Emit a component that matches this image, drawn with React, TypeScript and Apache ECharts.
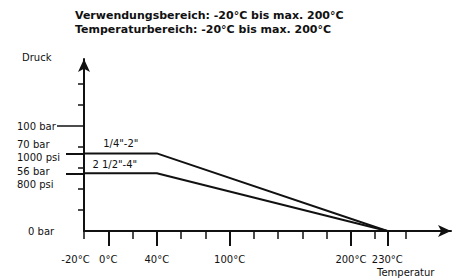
import React, { useEffect, useRef } from 'react';
import * as echarts from 'echarts';

// Temperature (°C) along each pressure curve
const temps = [-20, 40, 230];
// Pressure (bar) of each size range
const smallSizes = [74, 74, 0];
const largeSizes = [55, 55, 0];
const seriesNames = ['1/4"-2"', '2 1/2"-4"'];

const xLabelValues = [-20, 0, 40, 100, 200, 230];
const xMajorTicks = [0, 40, 100, 200, 230];
const xMinorTicks = [-20, 20, 60, 80, 120, 140, 160, 180, 220, 245];

const yLabelValues = [0, 50.5, 76.5, 100];
const yLabelTexts = ['0 bar', '56 bar\n800 psi', '70 bar\n1000 psi', '100 bar'];
const yMajorTicks = [100];
const yMinorTicks = [20, 40, 60, 80, 120, 140];

const titleLines = [
  'Verwendungsbereich: -20°C bis max. 200°C',
  'Temperaturbereich: -20°C bis max. 200°C',
];
const yName = 'Druck';
const xName = 'Temperatur';

const INK = '#111';
const FONT = 'DejaVu Sans';

export default function App() {
  const ref = useRef<HTMLDivElement>(null);
  useEffect(() => {
    if (!ref.current) return;
    const chart = echarts.init(ref.current, undefined, { renderer: 'svg' });
    const X_MIN = -20;
    const X_MAX = 282.5;
    const Y_MIN = 0;
    const Y_MAX = 164;
    const labelStyle = { color: INK, fontFamily: FONT, fontSize: 10 };
    const pointLabel = (text: string, offset: number[]) => ({
      show: true,
      position: 'top',
      distance: 5,
      offset,
      formatter: text,
      ...labelStyle,
    });
    const plainY = (ticks: number[], length: number, width: number) => ({
      type: 'value',
      position: 'left',
      min: Y_MIN,
      max: Y_MAX,
      splitLine: { show: false },
      axisLine: { show: false, onZero: false },
      axisTick: { show: true, customValues: ticks, length, lineStyle: { color: INK, width } },
      axisLabel: { show: false },
    });
    chart.setOption({
      animation: false,
      backgroundColor: '#fff',
      title: [
        {
          text: titleLines.join('\n'),
          left: 75,
          top: 8,
          padding: 0,
          textStyle: { ...labelStyle, fontSize: 11, fontWeight: 'bold', lineHeight: 14 },
        },
        {
          text: yName,
          left: 22,
          top: 51,
          padding: 0,
          textStyle: { ...labelStyle, fontWeight: 'normal', lineHeight: 12 },
        },
        {
          text: xName,
          left: 377,
          top: 266,
          padding: 0,
          textStyle: { ...labelStyle, fontWeight: 'normal', lineHeight: 12 },
        },
      ],
      grid: { left: 84, right: 9, top: 59, bottom: 48 },
      xAxis: [
        {
          type: 'value',
          position: 'bottom',
          min: X_MIN,
          max: X_MAX,
          splitLine: { show: false },
          axisLine: {
            show: true,
            onZero: false,
            symbol: ['none', 'arrow'],
            symbolSize: [9, 13],
            lineStyle: { color: INK, width: 2 },
          },
          axisTick: {
            show: true,
            customValues: xMajorTicks,
            length: 15,
            lineStyle: { color: INK, width: 2 },
          },
          axisLabel: {
            show: true,
            customValues: xLabelValues,
            margin: 23,
            ...labelStyle,
            formatter: (v: number) => (v === -20 ? '{l|-20°C}' : `${v}°C`),
            rich: { l: { ...labelStyle, padding: [0, 17, 0, 0] } },
          },
        },
        {
          type: 'value',
          position: 'bottom',
          min: X_MIN,
          max: X_MAX,
          splitLine: { show: false },
          axisLine: { show: false, onZero: false },
          axisTick: {
            show: true,
            customValues: xMinorTicks,
            length: 8,
            lineStyle: { color: INK, width: 1.5 },
          },
          axisLabel: { show: false },
        },
      ],
      yAxis: [
        {
          type: 'value',
          position: 'left',
          min: Y_MIN,
          max: Y_MAX,
          splitLine: { show: false },
          axisLine: {
            show: true,
            onZero: false,
            symbol: ['none', 'arrow'],
            symbolSize: [9, 13],
            lineStyle: { color: INK, width: 2 },
          },
          axisTick: {
            show: true,
            customValues: yMajorTicks,
            length: 27,
            lineStyle: { color: INK, width: 1.5 },
          },
          axisLabel: {
            show: true,
            customValues: yLabelValues,
            margin: 67,
            align: 'left',
            lineHeight: 12.5,
            ...labelStyle,
            formatter: (v: number) => {
              const i = yLabelValues.indexOf(v);
              const t = i >= 0 ? yLabelTexts[i] : '';
              return v === 0 ? `{p|${t}}` : t;
            },
            rich: { p: { ...labelStyle, padding: [0, 0, 0, 11] } },
          },
        },
        plainY(yMinorTicks, 6, 1.5),
        // leader lines from the pressure labels to the curves
        plainY([smallSizes[0], largeSizes[0]], 18, 2),
      ],
      series: [
        {
          name: seriesNames[0],
          type: 'line',
          xAxisIndex: 0,
          yAxisIndex: 0,
          clip: false,
          symbol: 'circle',
          symbolSize: 0,
          showSymbol: true,
          itemStyle: { color: INK },
          lineStyle: { color: INK, width: 2 },
          data: temps.map((t, i) =>
            i === 1
              ? { value: [t, smallSizes[i]], label: pointLabel(seriesNames[0], [-36, 0]) }
              : [t, smallSizes[i]]
          ),
        },
        {
          name: seriesNames[1],
          type: 'line',
          xAxisIndex: 0,
          yAxisIndex: 0,
          clip: false,
          symbol: 'circle',
          symbolSize: 0,
          showSymbol: true,
          itemStyle: { color: INK },
          lineStyle: { color: INK, width: 2 },
          data: temps.map((t, i) =>
            i === 1
              ? { value: [t, largeSizes[i]], label: pointLabel(seriesNames[1], [-42, 1]) }
              : [t, largeSizes[i]]
          ),
        },
      ],
    });
    return () => chart.dispose();
  }, []);
  return (
    <div
      ref={ref}
      style={{ position: 'fixed', left: 0, top: 0, width: 460, height: 279, background: '#fff' }}
    />
  );
}
